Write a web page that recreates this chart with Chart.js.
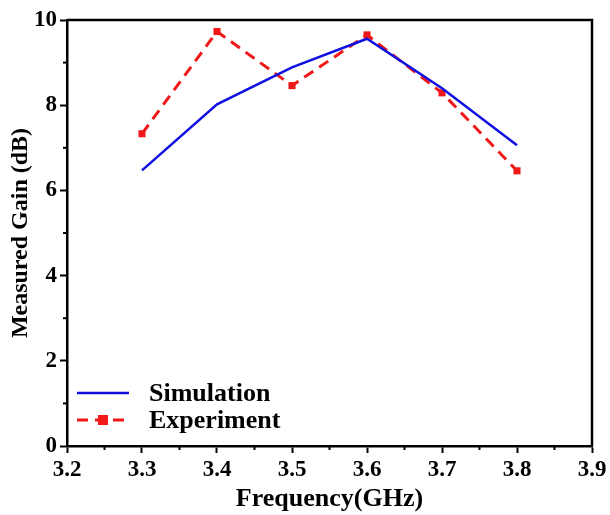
<!DOCTYPE html>
<html>
<head>
<meta charset="utf-8">
<script src="https://cdn.jsdelivr.net/npm/chart.js@4/dist/chart.umd.min.js"></script>
<style>
  html, body { margin: 0; padding: 0; background: #fff; }
  canvas { display: block; }
</style>
</head>
<body>
<canvas id="gain" width="610" height="515"></canvas>
<script>
// ── Data ───────────────────────────────────────────────────
const freqs      = [3.3, 3.4, 3.5, 3.6, 3.7, 3.8];
const simulation = [6.47, 8.02, 8.89, 9.56, 8.40, 7.06];
const experiment = [7.33, 9.73, 8.46, 9.65, 8.29, 6.46];

const xMinorTicks = [3.25, 3.35, 3.45, 3.55, 3.65, 3.75, 3.85];
const yMinorTicks = [1, 3, 5, 7, 9];

const FONT = "'Liberation Serif', 'Times New Roman', serif";

// frame on top/right, minor ticks, legend inside the plot
const framePlugin = {
  id: 'frame',
  afterDraw(chart) {
    const { ctx, chartArea: a, scales } = chart;
    ctx.save();
    ctx.strokeStyle = '#000';
    ctx.lineWidth = 2.5;
    ctx.beginPath();
    ctx.moveTo(a.left, a.top);
    ctx.lineTo(a.right, a.top);
    ctx.lineTo(a.right, a.bottom);
    ctx.stroke();

    ctx.lineWidth = 2;
    xMinorTicks.forEach(v => {
      const px = scales.x.getPixelForValue(v);
      ctx.beginPath(); ctx.moveTo(px, a.bottom); ctx.lineTo(px, a.bottom + 4); ctx.stroke();
    });
    yMinorTicks.forEach(v => {
      const py = scales.y.getPixelForValue(v);
      ctx.beginPath(); ctx.moveTo(a.left, py); ctx.lineTo(a.left - 4, py); ctx.stroke();
    });

    // legend
    const lx = a.left + 10, lw = 52, tx = a.left + 82;
    const rows = [
      { y: 393, label: 'Simulation', ds: chart.data.datasets[0] },
      { y: 420, label: 'Experiment', ds: chart.data.datasets[1] }
    ];
    ctx.font = `bold 26px ${FONT}`;
    ctx.textBaseline = 'middle';
    rows.forEach(r => {
      ctx.strokeStyle = r.ds.borderColor;
      ctx.lineWidth = r.ds.borderWidth;
      ctx.setLineDash(r.ds.borderDash || []);
      ctx.beginPath(); ctx.moveTo(lx, r.y); ctx.lineTo(lx + lw, r.y); ctx.stroke();
      ctx.setLineDash([]);
      if (r.ds.pointRadius) {
        ctx.fillStyle = r.ds.pointBackgroundColor;
        ctx.fillRect(lx + lw / 2 - 5, r.y - 5, 10, 10);
      }
      ctx.fillStyle = '#000';
      ctx.fillText(r.label, tx, r.y + 1);
    });
    ctx.restore();
  }
};

new Chart(document.getElementById('gain'), {
  type: 'line',
  data: {
    datasets: [{
      label: 'Simulation',
      data: freqs.map((f, i) => ({ x: f, y: simulation[i] })),
      borderColor: '#1010e0',
      borderWidth: 2.5,
      pointRadius: 0,
      tension: 0
    }, {
      label: 'Experiment',
      data: freqs.map((f, i) => ({ x: f, y: experiment[i] })),
      borderColor: '#f01818',
      borderWidth: 3,
      borderDash: [11, 7],
      pointStyle: 'rect',
      pointRadius: 5,
      pointBackgroundColor: '#f01818',
      pointBorderColor: '#f01818',
      pointBorderWidth: 0,
      tension: 0
    }]
  },
  options: {
    responsive: false,
    animation: false,
    layout: { padding: { top: 20, right: 18, left: 0, bottom: 0 } },
    plugins: { legend: { display: false }, tooltip: { enabled: false } },
    scales: {
      x: {
        type: 'linear',
        min: 3.2, max: 3.9,
        afterFit: s => { s.height = 69; },
        ticks: {
          stepSize: 0.1,
          padding: 3,
          color: '#000',
          font: { family: FONT, size: 23, weight: 'bold' },
          callback: v => v.toFixed(1)
        },
        grid: { drawOnChartArea: false, tickLength: 7, tickWidth: 2, tickColor: '#000' },
        border: { color: '#000', width: 2.5 },
        title: {
          display: true,
          text: 'Frequency(GHz)',
          color: '#000',
          font: { family: FONT, size: 26, weight: 'bold' },
          padding: { top: 0, bottom: 0 }
        }
      },
      y: {
        min: 0, max: 10,
        afterFit: s => { s.width = 67; },
        ticks: {
          stepSize: 2,
          padding: 3,
          color: '#000',
          font: { family: FONT, size: 23, weight: 'bold' }
        },
        grid: { drawOnChartArea: false, tickLength: 7, tickWidth: 2, tickColor: '#000' },
        border: { color: '#000', width: 2.5 },
        title: {
          display: true,
          text: 'Measured Gain (dB)',
          color: '#000',
          font: { family: FONT, size: 24, weight: 'bold' },
          padding: { top: 6, bottom: 2 }
        }
      }
    }
  },
  plugins: [framePlugin]
});
</script>
</body>
</html>
